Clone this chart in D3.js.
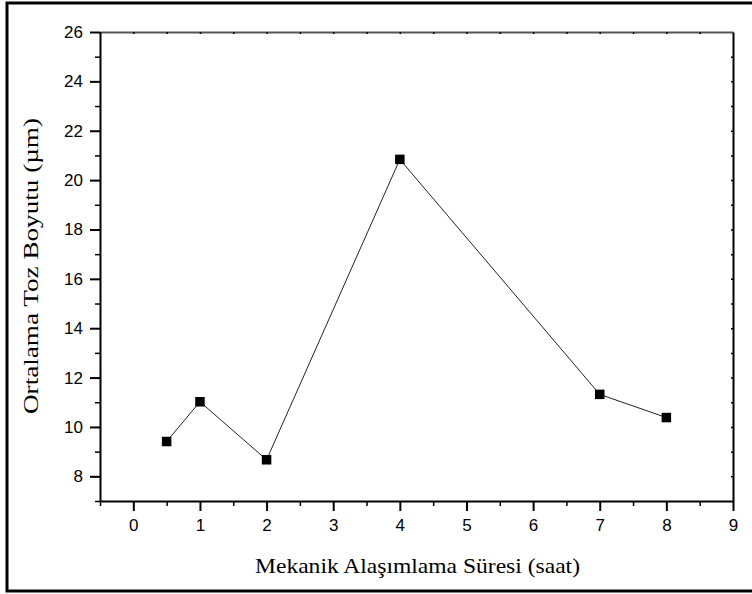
<!DOCTYPE html>
<html>
<head>
<meta charset="utf-8">
<script src="https://cdn.jsdelivr.net/npm/d3@7"></script>
<style>
  body { margin: 0; background: #fff; }
  svg { display: block; }
</style>
</head>
<body>
<svg id="chart" width="752" height="594"></svg>
<script>
// milling time (h) and mean powder size (um)
var hours = [0.5, 1, 2, 4, 7, 8];
var sizes = [9.41, 11.02, 8.67, 20.84, 11.32, 10.38];
var xTicks = [0, 1, 2, 3, 4, 5, 6, 7, 8, 9];
var yTicks = [8, 10, 12, 14, 16, 18, 20, 22, 24, 26];

var svg = d3.select("#chart");
var plotLeft = 100, plotRight = 733, plotTop = 32, plotBottom = 501;

var x = d3.scaleLinear().domain([-0.5, 9]).range([plotLeft, plotRight]);
var y = d3.scaleLinear().domain([7, 26]).range([plotBottom, plotTop]);

//outer frame, the right edge runs off the picture
svg.append("rect")
  .attr("x", 7).attr("y", 3)
  .attr("width", 800).attr("height", 588)
  .attr("fill", "none").attr("stroke", "#000").attr("stroke-width", 3);

var minorX = d3.range(-0.5, 9.01, 0.5).filter(function(d) { return d % 1 != 0; });
var minorY = d3.range(7, 26.01, 1).filter(function(d) { return d % 2 != 0; });

// bottom axis
var xAxis = svg.append("g")
  .attr("transform", "translate(0," + plotBottom + ")")
  .call(d3.axisBottom(x).tickValues(xTicks).tickSize(10).tickSizeOuter(0).tickPadding(8).tickFormat(d3.format("d")));
svg.append("g")
  .attr("class", "minor")
  .attr("transform", "translate(0," + plotBottom + ")")
  .call(d3.axisBottom(x).tickValues(minorX).tickSize(5).tickSizeOuter(0).tickFormat(""))
  .select(".domain").remove();

// left axis
var yAxis = svg.append("g")
  .attr("transform", "translate(" + plotLeft + ",0)")
  .call(d3.axisLeft(y).tickValues(yTicks).tickSize(10).tickSizeOuter(0).tickPadding(7).tickFormat(d3.format("d")));
svg.append("g")
  .attr("class", "minor")
  .attr("transform", "translate(" + plotLeft + ",0)")
  .call(d3.axisLeft(y).tickValues(minorY).tickSize(5).tickSizeOuter(0).tickFormat(""))
  .select(".domain").remove();

// top and right axes, small inner ticks only
svg.append("g")
  .attr("class", "minor")
  .attr("transform", "translate(0," + plotTop + ")")
  .call(d3.axisTop(x).tickValues(d3.range(0, 9, 1).concat(minorX)).tickSize(-2).tickSizeOuter(0).tickFormat(""))
  .select(".domain").attr("stroke", "#555");
svg.append("g")
  .attr("class", "minor")
  .attr("transform", "translate(" + plotRight + ",0)")
  .call(d3.axisRight(y).tickValues(d3.range(8, 26, 1)).tickSize(-2).tickSizeOuter(0).tickFormat(""));

svg.selectAll(".domain").attr("stroke-width", 2);
svg.selectAll(".tick line").attr("stroke-width", 2);
svg.selectAll(".minor .tick line").attr("stroke-width", 1.5);
svg.selectAll("g").attr("font-size", null).attr("font-family", null);
svg.selectAll(".tick text")
  .style("font-family", "'Liberation Sans', Arial, sans-serif")
  .style("font-size", "17px")
  .attr("fill", "#000");

// data line and markers
var line = d3.line()
  .x(function(d, i) { return x(hours[i]); })
  .y(function(d) { return y(d); });

svg.append("path")
  .datum(sizes)
  .attr("d", line)
  .attr("fill", "none")
  .attr("stroke", "#222")
  .attr("stroke-width", 1);

var s = 9.5;
svg.selectAll("rect.pt")
  .data(sizes)
  .enter().append("rect")
  .attr("class", "pt")
  .attr("x", function(d, i) { return x(hours[i]) - s / 2; })
  .attr("y", function(d) { return y(d) - s / 2; })
  .attr("width", s).attr("height", s)
  .attr("fill", "#000");

// axis titles (the original glyphs are a bit stretched, so fit the length)
svg.append("text")
  .attr("x", 255).attr("y", 573)
  .attr("textLength", 325)
  .attr("lengthAdjust", "spacingAndGlyphs")
  .style("font-family", "'Liberation Serif', 'Times New Roman', serif")
  .style("font-size", "22px")
  .text("Mekanik Alaşımlama Süresi (saat)");

svg.append("text")
  .attr("transform", "translate(38,414) rotate(-90)")
  .attr("textLength", 296)
  .attr("lengthAdjust", "spacingAndGlyphs")
  .style("font-family", "'Liberation Serif', 'Times New Roman', serif")
  .style("font-size", "22px")
  .text("Ortalama Toz Boyutu (µm)");
</script>
</body>
</html>
